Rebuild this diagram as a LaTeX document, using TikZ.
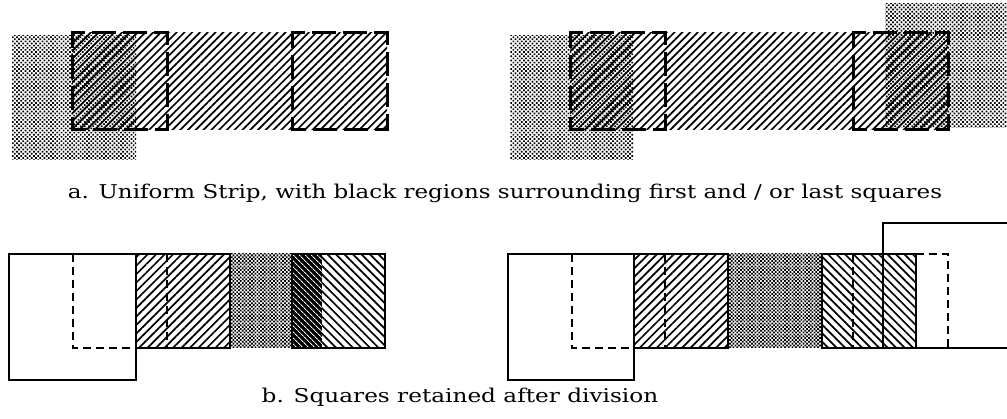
\documentclass[tikz,border=0pt]{standalone}
\usepackage{fontspec}
\setmainfont{DejaVu Serif}
\usetikzlibrary{patterns.meta}
\tikzset{
  px/.style={x=1pt,y=-1pt},
  hatchNE/.style={pattern={Lines[angle=45,distance=5.5pt,line width=1.7pt]}},
  hatchNEb/.style={pattern={Lines[angle=45,distance=6pt,line width=1.7pt]}},
  hatchNW/.style={pattern={Lines[angle=-45,distance=6pt,line width=1.7pt]}},
  whitehatch/.style={pattern color=white,pattern={Lines[angle=-45,distance=4pt,line width=0.9pt]}},
  graydots/.style={pattern={Dots[distance=3pt,radius=1.2pt,angle=45]}},
  densedots/.style={pattern={Dots[distance=2.6pt,radius=1.25pt,angle=45]}},
  bigdash/.style={line width=3pt,line cap=rect,dash pattern=on 21pt off 10pt,dash phase=10pt},
  thindash/.style={line width=1.5pt,dash pattern=on 8pt off 5pt},
  solidline/.style={line width=1.5pt},
  caption/.style={font=\fontsize{19}{22}\selectfont,inner sep=0pt,anchor=base}
}
\newcommand\DashSq[4]{%
  \draw[bigdash] (#1,#2) -- (#3,#2);
  \draw[bigdash] (#3,#2) -- (#3,#4);
  \draw[bigdash] (#3,#4) -- (#1,#4);
  \draw[bigdash] (#1,#4) -- (#1,#2);
}
\begin{document}
\begin{tikzpicture}[px]
\useasboundingbox (0,0) rectangle (1007,419);
% ---------- a, left ----------
\fill[graydots] (12,36) rectangle (136,160);
\fill[hatchNE] (72,33) rectangle (387,130);
\DashSq{72}{33}{167}{130}
\DashSq{292}{33}{387}{130}
% ---------- a, right ----------
\fill[graydots] (510,36) rectangle (633,160);
\fill[graydots] (885,4) rectangle (1009,128);
\fill[hatchNE] (570,33) rectangle (948,130);
\DashSq{570}{33}{665}{130}
\DashSq{853}{33}{948}{130}
\node[caption] (capa) at (505,199) {\scalebox{1.21}[1]{a. Uniform Strip, with black regions surrounding first and / or last squares}};
% ---------- b, left ----------
\draw[solidline] (9,254) rectangle (136,380);
\fill[densedots] (230,254) rectangle (292,348);
\filldraw[hatchNEb,solidline] (136,254) rectangle (230,348);
\filldraw[hatchNW,solidline] (292,254) rectangle (385,348);
\fill[black] (292,254) rectangle (322,348);
\fill[whitehatch] (292,254) rectangle (322,348);
\draw[solidline] (292,254) rectangle (385,348);
\draw[thindash] (73,254) -- (73,348) -- (136,348);
\draw[thindash] (167,254) -- (167,348);
% ---------- b, right ----------
\draw[solidline] (508,254) rectangle (634,380);
\fill[densedots] (728,254) rectangle (822,348);
\filldraw[hatchNEb,solidline] (634,254) rectangle (728,348);
\filldraw[hatchNW,solidline] (822,254) rectangle (916,348);
\draw[thindash] (572,254) -- (572,348) -- (634,348);
\draw[thindash] (665,254) -- (665,348);
\draw[thindash] (853,254) -- (853,348);
\draw[thindash] (916,254) -- (948,254) -- (948,348);
\draw[solidline] (1010,223) -- (883,223) -- (883,348) -- (1010,348);
\node[caption] (capb) at (460,403) {\scalebox{1.22}[1]{b. Squares retained after division}};
\end{tikzpicture}
\end{document}
